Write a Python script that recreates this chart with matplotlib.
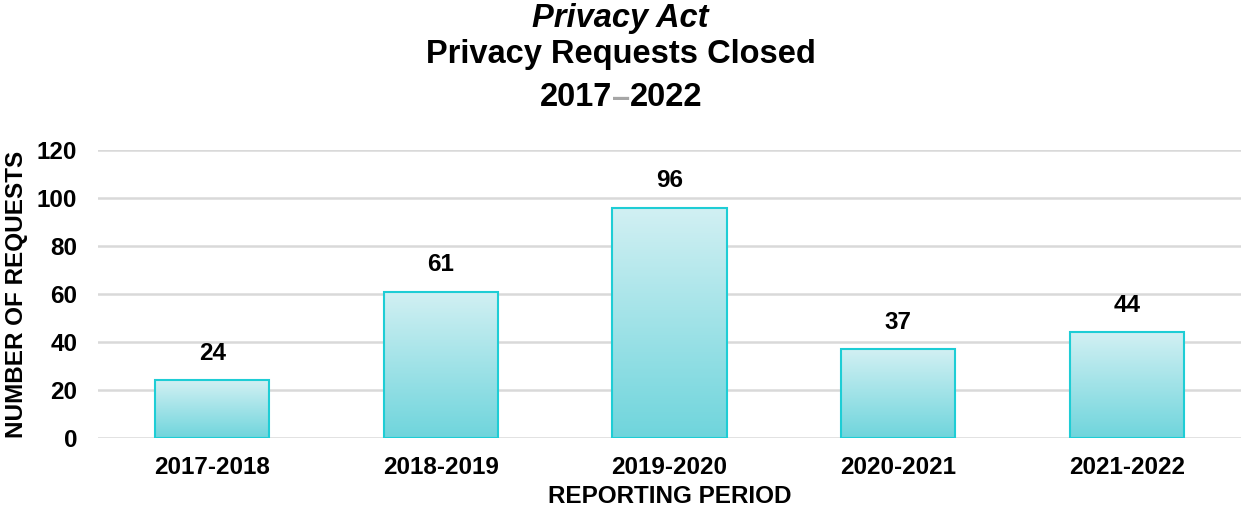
import numpy as np
import matplotlib.pyplot as plt
from matplotlib.colors import LinearSegmentedColormap

# data
periods = ["2017-2018", "2018-2019", "2019-2020", "2020-2021", "2021-2022"]
closed = [24, 61, 96, 37, 44]
yticks = [0, 20, 40, 60, 80, 100, 120]

plt.rcParams['font.family'] = ['Liberation Sans', 'DejaVu Sans']
plt.rcParams['font.weight'] = 'bold'

fs = 17.5
fig = plt.figure(figsize=(12.41, 5.13), dpi=100)
ax = fig.add_axes([98/1241, 1 - 438/513, 1143/1241, 288/513])

x = np.arange(len(periods))
bars = ax.bar(x, closed, width=0.5, color='none', edgecolor='#1ecdd5', linewidth=1.5, zorder=3)

# vertical gradient, light at the top, darker at the base
cmap = LinearSegmentedColormap.from_list('grad', ['#6fd5dc', '#d2f0f3'])
grad = np.linspace(0, 1, 256).reshape(-1, 1)
for b in bars:
    x0, w, h = b.get_x(), b.get_width(), b.get_height()
    im = ax.imshow(grad, extent=[x0, x0 + w, 0, h], origin='lower', cmap=cmap,
                   aspect='auto', zorder=2)
    im.set_clip_path(b)

for xi, v in zip(x, closed):
    ax.annotate(str(v), (xi, v), xytext=(0, 11), textcoords='offset points',
                ha='center', va='bottom', fontsize=fs, fontweight='bold')

ax.set_xlim(-0.5, len(periods) - 0.5)
ax.set_ylim(0, 120)
ax.set_yticks(yticks)
ax.set_xticks(x)
ax.set_xticklabels(periods)
ax.tick_params(axis='both', length=0, labelsize=fs)
ax.tick_params(axis='y', pad=15)
ax.tick_params(axis='x', pad=13)
ax.grid(axis='y', color='#d9d9d9', linewidth=1.8, zorder=0)
ax.set_axisbelow(True)
for s in ax.spines.values():
    s.set_visible(False)

ax.set_ylabel("NUMBER OF REQUESTS", fontsize=fs, fontweight='bold', labelpad=6)
ax.set_xlabel("REPORTING PERIOD", fontsize=fs, fontweight='bold', labelpad=4)

tsize = 23.5
fig.text(0.5, 1 - 18/513, "Privacy Act", ha='center', va='center', fontsize=tsize,
         fontweight='bold', style='italic')
fig.text(0.5, 1 - 54/513, "Privacy Requests Closed", ha='center', va='center',
         fontsize=tsize, fontweight='bold')
dash = fig.text(621/1241, 1 - 98/513, "\u2013", ha='center', va='center',
                fontsize=tsize, color='#a6a6a6')
ax.annotate("2017", xy=(0, 0.5), xycoords=dash, ha='right', va='center',
            fontsize=tsize, fontweight='bold')
ax.annotate("2022", xy=(1, 0.5), xycoords=dash, ha='left', va='center',
            fontsize=tsize, fontweight='bold')

fig.savefig("out.png", dpi=100)
